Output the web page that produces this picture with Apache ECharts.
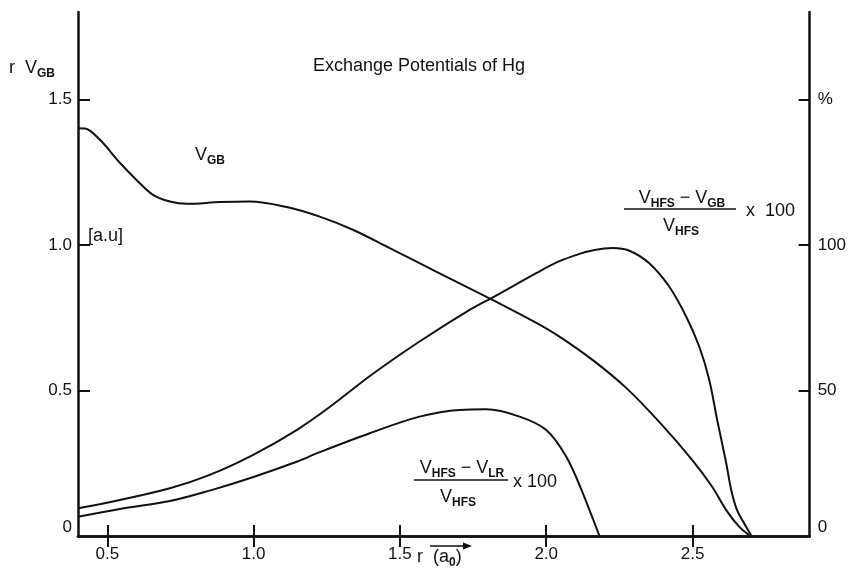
<!DOCTYPE html>
<html><head><meta charset="utf-8">
<script src="https://cdn.jsdelivr.net/npm/echarts@6/dist/echarts.min.js"></script>
<style>html,body{margin:0;padding:0;background:#fff}#c{width:849px;height:569px}</style>
</head><body><div id="c"></div>
<script>
// ---- data ----
const xTicks = [0.5, 1.0, 1.5, 2.0, 2.5];
const yLeftTicks = [0, 0.5, 1.0, 1.5];
const yRightTicks = [0, 50, 100, 150];
const yRightLabels = ['0', '50', '100', '%'];

// r*V_GB [a.u.] vs r
const vgb = [
  [0.40,1.401],[0.424,1.400],[0.475,1.361],[0.543,1.282],[0.60,1.223],[0.656,1.172],
  [0.714,1.149],[0.772,1.141],[0.885,1.147],[0.987,1.149],[1.113,1.130],[1.226,1.097],
  [1.339,1.052],[1.455,0.994],[1.567,0.937],[1.68,0.880],[1.816,0.811],[1.966,0.732],
  [2.045,0.685],[2.158,0.605],[2.274,0.508],[2.386,0.392],[2.499,0.261],[2.567,0.169],
  [2.615,0.089],[2.659,0.032],[2.693,0.003]
];
// (V_HFS - V_GB)/V_HFS x 100
const gbPct = [
  [0.40,9.5],[0.543,12.4],[0.714,16.4],[0.85,21.0],[0.997,27.8],[1.147,36.4],[1.26,44.3],
  [1.402,55.3],[1.567,66.8],[1.738,77.7],[1.816,81.9],[1.966,90.3],[2.045,94.4],[2.113,96.9],
  [2.158,98.1],[2.226,98.9],[2.284,98.0],[2.352,93.7],[2.42,85.7],[2.478,75.4],[2.523,65.0],
  [2.557,53.6],[2.584,39.9],[2.615,25.0],[2.632,15.8],[2.652,8.9],[2.683,3.2],[2.70,0.3]
];
// (V_HFS - V_LR)/V_HFS x 100
const lrPct = [
  [0.40,6.6],[0.543,9.3],[0.714,12.0],[0.85,15.6],[0.997,20.2],[1.147,25.5],[1.226,28.8],
  [1.397,35.3],[1.567,41.0],[1.704,43.3],[1.795,43.5],[1.909,41.0],[2.0,36.4],[2.068,27.3],
  [2.125,14.7],[2.182,0]
];

const FONT = '"Liberation Sans", Arial, sans-serif';
const INK = '#111';
const rich = {
  m: {fontSize: 18, fontFamily: FONT, color: INK, lineHeight: 24},
  s: {fontSize: 12, fontFamily: FONT, color: INK, fontWeight: 'bold', lineHeight: 13, verticalAlign: 'bottom'}
};
function txt(x, y, text, align, extra) {
  return Object.assign({
    type: 'text', x: x, y: y, silent: true,
    style: {text: text, rich: rich, align: align || 'center', verticalAlign: 'middle',
            fontSize: 18, fontFamily: FONT, fill: INK}
  }, extra || {});
}
function hline(x1, x2, y) {
  return {type: 'line', silent: true, shape: {x1: x1, y1: y, x2: x2, y2: y},
          style: {stroke: INK, lineWidth: 1.5}};
}

const chart = echarts.init(document.getElementById('c'), null, {renderer: 'canvas'});
const axisLineStyle = {color: INK, width: 2.5};
const lbl = {color: INK, fontSize: 17, fontFamily: FONT};
const lineSty = {color: INK, width: 2};

chart.setOption({
  animation: false,
  backgroundColor: '#fff',
  grid: {left: 78, right: 38, top: 12, bottom: 33, containLabel: false},
  xAxis: [{
    type: 'value', min: 0.4, max: 2.9, position: 'bottom',
    axisLine: {lineStyle: axisLineStyle},
    axisTick: {inside: true, length: 11, lineStyle: {color: INK, width: 2}, customValues: xTicks},
    axisLabel: Object.assign({margin: 10, customValues: xTicks, formatter: v => v.toFixed(1)}, lbl),
    splitLine: {show: false}
  }, {
    type: 'value', min: 0.4, max: 2.9, position: 'top',
    axisLine: {lineStyle: axisLineStyle},
    axisTick: {inside: true, length: 11, lineStyle: {color: INK, width: 2}, customValues: xTicks},
    axisLabel: {show: false},
    splitLine: {show: false}
  }],
  yAxis: [{
    type: 'value', min: 0, max: 1.8, position: 'left',
    axisLine: {show: true, lineStyle: axisLineStyle},
    axisTick: {show: true, inside: true, length: 12, lineStyle: {color: INK, width: 2}, customValues: yLeftTicks.slice(1)},
    axisLabel: Object.assign({margin: 6, customValues: yLeftTicks, verticalAlignMinLabel: 'bottom',
      formatter: v => v === 0 ? '0' : v.toFixed(1)}, lbl),
    splitLine: {show: false}
  }, {
    type: 'value', min: 0, max: 180, position: 'right',
    axisLine: {show: true, lineStyle: axisLineStyle},
    axisTick: {show: true, inside: true, length: 11, lineStyle: {color: INK, width: 2}, customValues: yRightTicks.slice(1)},
    axisLabel: Object.assign({margin: 8, customValues: yRightTicks, verticalAlignMinLabel: 'bottom',
      formatter: v => yRightLabels[yRightTicks.indexOf(v)]}, lbl),
    splitLine: {show: false}
  }],
  series: [
    {type: 'line', data: vgb, xAxisIndex: 0, yAxisIndex: 0, smooth: 0.35, showSymbol: false, lineStyle: lineSty},
    {type: 'line', data: gbPct, xAxisIndex: 0, yAxisIndex: 1, smooth: 0.35, showSymbol: false, lineStyle: lineSty},
    {type: 'line', data: lrPct, xAxisIndex: 0, yAxisIndex: 1, smooth: 0.35, showSymbol: false, lineStyle: lineSty}
  ],
  graphic: [
    txt(419, 66, 'Exchange Potentials of Hg'),
    txt(9, 68, '{m|r  V}{s|GB}', 'left'),
    txt(195, 155, '{m|V}{s|GB}', 'left'),
    txt(88, 236, '{m|[a.u]}', 'left'),
    // (V_HFS - V_GB)/V_HFS x 100
    txt(682, 198, '{m|V}{s|HFS}{m| − V}{s|GB}'),
    hline(624, 736, 209),
    txt(681, 226, '{m|V}{s|HFS}'),
    txt(746, 211, '{m|x  100}', 'left'),
    // (V_HFS - V_LR)/V_HFS x 100
    txt(462, 468, '{m|V}{s|HFS}{m| − V}{s|LR}'),
    hline(414, 508, 480),
    txt(458, 497, '{m|V}{s|HFS}'),
    txt(513, 482, '{m|x 100}', 'left'),
    // x axis name
    txt(417, 557, '{m|r  (a}{s|0}{m|)}', 'left'),
    {type: 'line', silent: true, shape: {x1: 430, y1: 546, x2: 469, y2: 546}, style: {stroke: INK, lineWidth: 1.5}},
    {type: 'polygon', silent: true, shape: {points: [[472, 546], [463, 542.5], [463, 549.5]]}, style: {fill: INK}}
  ]
});
</script></body></html>
